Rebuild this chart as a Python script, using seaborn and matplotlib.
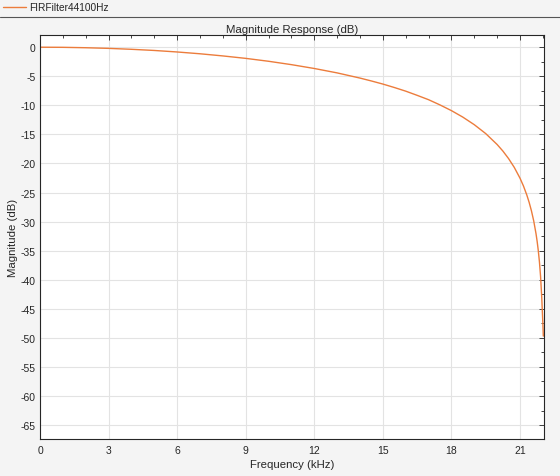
import seaborn as sns
import pandas as pd
import matplotlib.pyplot as plt
from matplotlib.lines import Line2D
from matplotlib.ticker import MultipleLocator

# magnitude response (kHz, dB)
freq_khz = [0, 1, 2, 3, 4, 5, 6, 7, 8, 9, 10, 11, 12, 13, 14, 14.5, 15, 15.5, 16,
            16.5, 17, 17.5, 18, 18.5, 19, 19.5, 20, 20.25, 20.5, 20.75, 21, 21.15,
            21.3, 21.4, 21.5, 21.6, 21.7, 21.75, 21.8, 21.85, 21.9, 21.95, 22.0, 22.02]
mag_db = [0.0, -0.02, -0.09, -0.20, -0.36, -0.56, -0.82, -1.13, -1.50, -1.92,
          -2.42, -3.00, -3.66, -4.42, -5.31, -5.81, -6.34, -6.93, -7.56,
          -8.28, -9.03, -9.93, -10.91, -12.03, -13.33, -14.86, -16.74, -17.86, -19.16,
          -20.68, -22.53, -23.86, -25.45, -26.69, -28.14, -29.88, -32.07, -33.40,
          -34.99, -36.92, -39.43, -42.95, -47.5, -49.7]
series_name = "FIRFilter44100Hz"

xticks = [0, 3, 6, 9, 12, 15, 18, 21]
yticks = list(range(0, -70, -5))

df = pd.DataFrame({"freq": freq_khz, "mag": mag_db})

sns.set_theme(style="whitegrid")
plt.rcParams["font.family"] = ["Liberation Sans", "DejaVu Sans"]
plt.rcParams["axes.unicode_minus"] = False

bg = "#f4f4f4"
dark = "#262626"
orange = "#ec7c3c"

fig = plt.figure(figsize=(5.6, 4.77), dpi=100, facecolor=bg)
ax = fig.add_axes([40 / 560, 1 - 440 / 477, 504 / 560, 404 / 477])
ax.set_facecolor("white")

sns.lineplot(data=df, x="freq", y="mag", color=orange, linewidth=1.0, ax=ax)

ax.set_xlim(0, 22.05)
ax.set_ylim(-67.4, 2.1)
ax.set_xticks(xticks)
ax.set_yticks(yticks)
ax.xaxis.set_minor_locator(MultipleLocator(1))
ax.yaxis.set_minor_locator(MultipleLocator(2.5))
ax.tick_params(which="both", direction="in", top=True, right=True,
               color=dark, labelsize=7.5, labelcolor=dark, pad=3)
ax.tick_params(axis="x", which="major", pad=4)
ax.tick_params(which="major", length=3.5, width=0.6)
ax.tick_params(which="minor", length=2, width=0.6)
ax.grid(True, which="major", color="#e3e3e3", linewidth=0.8)
ax.grid(False, which="minor")
for s in ax.spines.values():
    s.set_visible(True)
    s.set_color(dark)
    s.set_linewidth(0.8)

ax.set_xlabel("Frequency (kHz)", fontsize=8.2, color=dark, labelpad=3)
ax.set_ylabel("Magnitude (dB)", fontsize=8.2, color=dark, labelpad=2)
ax.set_title("Magnitude Response (dB)", fontsize=8.2, color=dark, pad=2)

# legend strip at the top
fig.add_artist(Line2D([3 / 560, 26 / 560], [1 - 8 / 477] * 2, color=orange, linewidth=1.0))
fig.text(29 / 560, 1 - 8 / 477, series_name, fontsize=7.3, color=dark, va="center")
fig.add_artist(Line2D([0, 1], [1 - 17.5 / 477] * 2, color="#555555", linewidth=0.8))

fig.savefig("out.png", dpi=100, facecolor=bg)
